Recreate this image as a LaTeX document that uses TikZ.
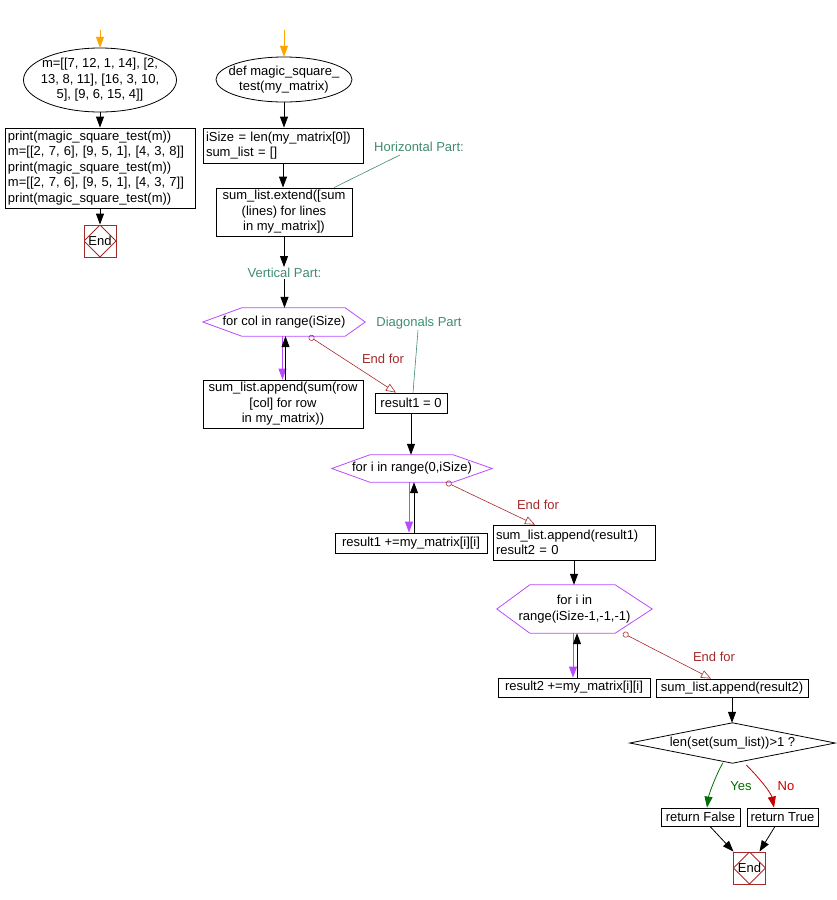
\documentclass[tikz,border=0pt]{standalone}
\usepackage{fontspec}
\setmainfont{Liberation Sans}
\usetikzlibrary{arrows.meta,shapes.geometric,calc}
\definecolor{orangeA}{RGB}{255,165,0}
\definecolor{purp}{RGB}{185,75,255}
\definecolor{endred}{RGB}{165,42,42}
\definecolor{cteal}{RGB}{64,140,110}
\definecolor{yesgreen}{RGB}{0,110,0}
\definecolor{nored}{RGB}{200,0,0}
\newcommand\hexdraw[3]{\draw[purp, line width=0.8pt] (#1.west) -- ([xshift=#2pt]#1.north west) -- ([xshift=-#3pt]#1.north east) -- (#1.east) -- ([xshift=-#3pt]#1.south east) -- ([xshift=#2pt]#1.south west) -- cycle;}
\begin{document}
\begin{tikzpicture}[x=1pt,y=-1pt,
  font=\fontsize{13}{15.5}\selectfont,
  arr/.style={line width=0.8pt, -{Triangle[length=11pt,width=8pt]}},
  startarr/.style={orangeA, line width=0.8pt, -{Triangle[length=11pt,width=8pt]}},
  loopdown/.style={purp, line width=0.8pt, -{Triangle[length=11pt,width=8pt]}},
  endfor/.style={endred, line width=0.6pt, {Circle[open,length=6pt,width=6pt]}-{Triangle[open,length=10pt,width=8pt]}},
  box/.style={draw, line width=0.8pt, inner xsep=3pt, inner ysep=0pt, align=center},
  lbox/.style={box, align=left},
  oval/.style={inner sep=0pt, align=center},
  hexa/.style={inner sep=0pt, align=center},
  comment/.style={text=cteal, inner sep=1pt},
  cline/.style={cteal, line width=0.6pt},
  eflabel/.style={text=endred, inner sep=1pt},
  endnode/.style={draw=endred, line width=0.8pt, minimum size=32pt, inner sep=0pt,
    path picture={\draw[endred, line width=0.8pt] (path picture bounding box.north) -- (path picture bounding box.east) -- (path picture bounding box.south) -- (path picture bounding box.west) -- cycle;}}
]
\useasboundingbox (0,0) rectangle (836,900);

% ---------- left column ----------
\coordinate (s1) at (100,30);
\node[oval, minimum width=153pt, minimum height=64pt] (e1) at (100,80)
  {m=[[7, 12, 1, 14], [2,\\13, 8, 11], [16, 3, 10,\\5], [9, 6, 15, 4]]};
\draw[line width=0.8pt] (e1.center) ellipse [x radius=76.5, y radius=32];
\node[lbox, text width=184pt, minimum height=80pt] (b1) at (100,168)
  {print(magic\_square\_test(m))\\m=[[2, 7, 6], [9, 5, 1], [4, 3, 8]]\\print(magic\_square\_test(m))\\m=[[2, 7, 6], [9, 5, 1], [4, 3, 7]]\\print(magic\_square\_test(m))};
\node[endnode] (end1) at (100,241) {End};
\draw[startarr] (s1) -- (e1.north);
\draw[arr] (e1.south) -- (b1.north);
\draw[arr] (b1) -- (end1);

% ---------- function ----------
\coordinate (s2) at (284,30);
\node[oval, minimum width=136pt, minimum height=45pt] (e2) at (284,79.5)
  {def magic\_square\_\\test(my\_matrix)};
\draw[line width=0.8pt] (e2.center) ellipse [x radius=68, y radius=22.5];
\node[lbox, text width=154pt, minimum height=35pt] (b2) at (283,145.5)
  {iSize = len(my\_matrix[0])\\sum\_list = []};
\node[box, minimum width=136pt, minimum height=48pt] (b3) at (284,212)
  {sum\_list.extend([sum\\(lines) for lines\\in my\_matrix])};
\node[comment] (hc) at (419,147) {Horizontal Part:};
\node[comment] (vt) at (284.5,273) {Vertical Part:};
\node[hexa, minimum width=162pt, minimum height=28pt] (h1) at (284,322) {for col in range(iSize)};
\hexdraw{h1}{39}{20}
\node[box, minimum width=160pt, minimum height=48pt] (b4) at (283,404)
  {sum\_list.append(sum(row\\{}[col] for row\\in my\_matrix))};
\node[comment] (dc) at (419,323) {Diagonals Part};
\node[box, minimum width=72pt, minimum height=20pt] (r1) at (411,403) {result1 = 0};
\node[eflabel] (ef1) at (383,359) {End for};

\draw[startarr] (s2) -- (e2.north);
\draw[arr] (e2.south) -- (e2.south |- b2.north);
\draw[arr] (b2.south) -- (b2.south |- b3.north);
\draw[arr] (b3.south) -- (b3.south |- vt.north);
\draw[arr] (vt.south) -- (vt.south |- h1.north);
\draw[cline] ($(hc.south)+(-19,2)$) -- ([xshift=50pt]b3.north);
\draw[loopdown] ([xshift=-1.5pt]h1.south) -- ([xshift=-1.5pt]h1.south |- b4.north);
\draw[arr] ([xshift=1.5pt]h1.south |- b4.north) -- ([xshift=1.5pt]h1.south);
\draw[endfor] ([xshift=25pt]h1.south) -- ([xshift=-15pt]r1.north);
\draw[cline] ([xshift=-1pt]dc.south) -- ([xshift=2pt]r1.north);

% ---------- diagonal 1 ----------
\node[hexa, minimum width=160pt, minimum height=27pt] (h2) at (412,468.5) {for i in range(0,iSize)};
\hexdraw{h2}{38}{39}
\node[box, minimum width=152pt, minimum height=20pt] (b5) at (411,543) {result1 +=my\_matrix[i][i]};
\node[lbox, text width=156pt, minimum height=35pt] (b6) at (574,542.5)
  {sum\_list.append(result1)\\result2 = 0};
\node[eflabel] (ef2) at (538,505) {End for};
\draw[arr] (r1.south) -- (r1.south |- h2.north);
\draw[loopdown] ([xshift=-3pt]h2.south) -- ([xshift=-3pt]h2.south |- b5.north);
\draw[arr] ([xshift=2pt]h2.south |- b5.north) -- ([xshift=2pt]h2.south);
\draw[endfor] ([xshift=34pt]h2.south) -- ([xshift=-39pt]b6.north);

% ---------- diagonal 2 ----------
\node[hexa, minimum width=155pt, minimum height=48pt] (h3) at (574.5,609) {for i in\\range(iSize-1,-1,-1)};
\hexdraw{h3}{33}{37}
\node[box, minimum width=152pt, minimum height=19pt] (b7) at (574,687.5) {result2 +=my\_matrix[i][i]};
\node[box, minimum width=152pt, minimum height=18pt] (b8) at (732,688) {sum\_list.append(result2)};
\node[eflabel] (ef3) at (714,657) {End for};
\draw[arr] (b6.south) -- (b6.south |- h3.north);
\draw[loopdown] ([xshift=-1.5pt]h3.south) -- ([xshift=-1.5pt]h3.south |- b7.north);
\draw[arr] ([xshift=2.5pt]h3.south |- b7.north) -- ([xshift=2.5pt]h3.south);
\draw[endfor] ([xshift=48.5pt]h3.south) -- ([xshift=-21pt]b8.north);

% ---------- decision ----------
\node[inner sep=0pt, minimum width=205pt, minimum height=40pt] (d1) at (732.5,743) {len(set(sum\_list))>1 ?};
\draw[line width=0.8pt] (d1.north) -- (d1.east) -- (d1.south) -- (d1.west) -- cycle;
\draw[arr] (b8.south) -- (b8.south |- d1.north);
\node[box, minimum width=79pt, minimum height=18pt] (rf) at (700.5,817) {return False};
\node[box, minimum width=71pt, minimum height=18pt] (rt) at (782.5,817) {return True};
\node[text=yesgreen, inner sep=1pt] (yes) at (741,786) {Yes};
\node[text=nored, inner sep=1pt] (no) at (786,786) {No};
\draw[yesgreen, line width=0.8pt, -{Triangle[length=11pt,width=8pt]}]
  ([xshift=-9.5pt,yshift=0.5pt]d1.south) .. controls +(-6,10) and +(2,-14) .. ([xshift=6.5pt]rf.north);
\draw[nored, line width=0.8pt, -{Triangle[length=11pt,width=8pt]}]
  ([xshift=14pt,yshift=-2pt]d1.south) .. controls +(12,12) and +(-3,-15) .. ([xshift=-8.5pt]rt.north);
\node[endnode] (end2) at (749.5,868) {End};
\draw[arr] ([xshift=9.5pt]rf.south) -- ([xshift=-16pt]end2.north);
\draw[arr] ([xshift=-7.5pt]rt.south) -- ([xshift=10pt]end2.north);
\end{tikzpicture}
\end{document}
